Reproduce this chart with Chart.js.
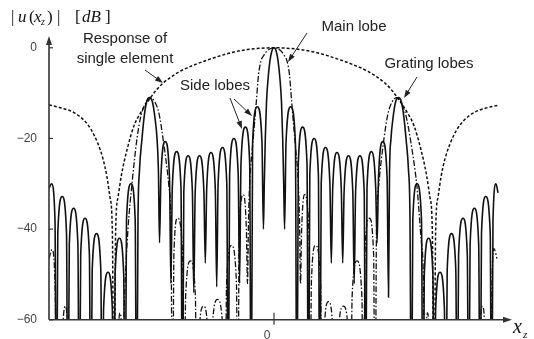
<!DOCTYPE html>
<html>
<head>
<meta charset="utf-8">
<script src="https://cdn.jsdelivr.net/npm/chart.js@4.4.0/dist/chart.umd.min.js"></script>
<style>
  html, body { margin: 0; padding: 0; background: #fff; }
  #wrap { width: 534px; height: 339px; position: relative; }
</style>
</head>
<body>
<div id="wrap"><canvas id="chart"></canvas></div>
<script>
// x = position along x_z (0 = centre of the array), y = level in dB

const yTicks = [0, -20, -40, -60];
const xTicks = [0];

// response of a single element (dashed)
const elemX = [-225, -212, -200, -190, -183, -176, -171, -167, -164, -161.6, -160, -158.4, -156, -152.5, -147, -140, -133, -126, -118, -111, -102, -94, -80, -64, -45, -27, 0,
  27, 45, 64, 80, 94, 102, 111, 118, 126, 133, 140, 147, 152.5, 156, 158.4, 160, 161.6, 164, 167, 171, 176, 183, 190, 200, 212, 224];
const elemDb = [-12.6, -13.3, -14.3, -16, -18, -21.2, -24.5, -28.5, -33, -41, -90, -41, -33, -28, -22.5, -17.2, -14.2, -11.8, -9.4, -7.8, -6.3, -5.2, -3.8, -2.5, -1.2, -0.4, 0,
  -0.4, -1.2, -2.5, -3.8, -5.2, -6.3, -7.8, -9.4, -11.8, -14.2, -17.2, -22.5, -28, -33, -41, -90, -41, -33, -28.5, -24.5, -21.2, -18, -16, -14.3, -13.3, -12.7];

// array response (solid)
const solidX = [
  -225, -222.5, -219, -217.6, -216.2, -211.8, -207.5, -206.1, -204.7, -200.4, -196.1, -194.7,
  -193.3, -189, -184.6, -183.2, -181.8, -177.5, -173.2, -171.8, -170.4, -166, -161.7, -160.3,
  -158.9, -154.6, -150.3, -148.9, -147.5, -143, -138.8, -137.4,
  -136, -134.5, -132, -130, -127.5, -124.5, -121.5, -119, -117, -115.5, -114.5,
  -113.1, -108.8, -104.5, -103.1, -101.7, -97.4, -93, -91.6, -90.2, -85.9, -81.6, -80.2,
  -78.8, -74.5, -70.1, -68.7, -67.3, -63, -58.7, -57.3, -55.9, -51.5, -47.2, -45.8,
  -44.4, -40.1, -35.8, -34.4, -33, -28.6, -24.3, -22.9, -21.4, -16.7, -12, -10.6,
  -9.7, -8.7, -7.5, -6, -4, -2, 0, 2, 4, 6, 7.5, 8.7, 9.7, 10.6,
  12, 16.7, 21.4, 22.9, 24.3, 28.6, 33, 34.4, 35.8, 40.1, 44.4, 45.8,
  47.2, 51.5, 55.9, 57.3, 58.7, 63, 67.3, 68.7, 70.1, 74.5, 78.8, 80.2,
  81.6, 85.9, 90.2, 91.6, 93, 97.4, 101.7, 103.1, 104.5, 108.8, 113.1, 114.5,
  115.5, 117, 119, 121.5, 124.5, 127.5, 130, 132, 134.5, 136, 137.4,
  138.8, 143, 147.5, 148.9, 150.3, 154.6, 158.9, 160.3, 161.7, 166, 170.4, 171.8,
  173.2, 177.5, 181.8, 183.2, 184.6, 189, 193.3, 194.7, 196.1, 200.4, 204.7, 206.1,
  207.5, 211.8, 216.2, 217.6, 219, 222, 224
];
const solidDb = [
  -31, -30, -38, -90, -40.8, -32.8, -40.8, -90, -43.4, -35.4, -43.4, -90,
  -45.6, -37.6, -45.6, -90, -49, -41, -49, -90, -57.5, -49.5, -57.5, -90,
  -50, -42, -50, -90, -38, -30, -38, -90,
  -38, -27, -20, -15.5, -12, -11, -12, -15.5, -20, -28, -43,
  -28.7, -20.7, -28.7, -52, -30.9, -22.9, -30.9, -90, -31.8, -23.8, -31.8, -54,
  -31.8, -23.8, -31.8, -47.5, -31.1, -23.1, -31.1, -52.7, -30, -22, -30, -90,
  -28, -20, -28, -52, -25.5, -17.5, -25.5, -90, -21, -13, -21, -40,
  -30, -20, -12, -7, -2.8, -0.6, 0, -0.6, -2.8, -7, -12, -20, -30, -40,
  -21, -13, -21, -90, -25.5, -17.5, -25.5, -90, -28, -20, -28, -90,
  -30, -22, -30, -47.5, -31.1, -23.1, -31.1, -47.5, -31.8, -23.8, -31.8, -52,
  -31.8, -23.8, -31.8, -90, -30.9, -22.9, -30.9, -43, -28.7, -20.7, -28.7, -55,
  -28, -20, -15.5, -12, -11, -12, -15.5, -20, -27, -38, -90,
  -38, -30, -38, -90, -50, -42, -50, -90, -57.5, -49.5, -57.5, -90,
  -49, -41, -49, -90, -45.6, -37.6, -45.6, -90, -43.4, -35.4, -43.4, -90,
  -40.8, -32.8, -40.8, -90, -38, -30, -32
];

// array response, second case (dash-dot)
const dashDotX = [
  -225, -222, -219, -216.5, -212, -209, -206, -205, -157, -155.5, -154, -152.5, -151.2,
  -150, -149, -146, -142, -137, -133, -128, -123.5, -119, -115, -111, -105, -103, -101.5,
  -100.1, -96.5, -91.4, -90, -88.4, -83.5, -78.6, -77, -75.4, -70.5, -65.6, -64,
  -62.2, -56.5, -50.8, -49, -47.4, -42.5, -37.6, -36, -34.9, -30.5, -27.6, -26.5,
  -25.5, -24, -22, -20, -17.7, -15.5, -13, -10, -6, 0, 6, 10, 13, 15.5, 17.7, 20, 22, 24, 25.5,
  26.5, 27.6, 30.5, 34.9, 36, 37.4, 41.5, 46.6, 48, 49.8, 54.5, 59.2, 62,
  63.7, 69.5, 74.8, 76.5, 78.1, 83, 87.9, 89.5, 90.9, 95.3, 99.6, 101,
  102.5, 104.5, 110, 114, 118, 122.5, 127, 132, 137, 141, 143, 147, 149.5, 151,
  152.3, 153.5, 155, 156.5, 204.5, 206, 208.5, 211, 212.5, 216.5, 218, 220, 223
];
const dashDotDb = [
  -46.5, -44.5, -52, -90, -64, -57, -64, -90, -90, -63, -58.5, -63, -90,
  -60, -52.5, -40, -30, -20, -15, -12, -11, -12, -14.5, -20, -30.7, -40, -90,
  -45.6, -37.6, -45.6, -90, -55, -47, -55, -90, -65, -57, -65, -90,
  -63.5, -55.5, -63.5, -90, -51.6, -43.6, -51.6, -90, -40.4, -32.4, -40.4, -52,
  -38, -28.5, -23, -18, -12, -6, -2.9, -1.6, -0.5, 0, -0.5, -1.6, -2.9, -6, -12, -18, -23, -28.5, -38,
  -52, -40.4, -32.4, -40.4, -90, -51.6, -43.6, -51.6, -90, -64, -56, -64, -90,
  -65, -57, -65, -90, -55, -47, -55, -90, -45.6, -37.6, -45.6, -90,
  -40, -30.7, -20, -14.5, -12, -11, -12, -15, -21, -27, -30.7, -42, -52.5, -90,
  -63, -58.5, -63, -90, -90, -64, -57, -64, -90, -90, -52, -44.3, -46.5
];

const toPoints = (xs, ys) => xs.map((x, i) => ({ x: x, y: ys[i] }));

function arrow(ctx, x1, y1, x2, y2) {
    const a = Math.atan2(y2 - y1, x2 - x1);
    ctx.beginPath();
    ctx.moveTo(x1, y1);
    ctx.lineTo(x2 - 5 * Math.cos(a), y2 - 5 * Math.sin(a));
    ctx.stroke();
    ctx.beginPath();
    ctx.moveTo(x2, y2);
    ctx.lineTo(x2 - 8 * Math.cos(a) + 2.8 * Math.sin(a), y2 - 8 * Math.sin(a) - 2.8 * Math.cos(a));
    ctx.lineTo(x2 - 8 * Math.cos(a) - 2.8 * Math.sin(a), y2 - 8 * Math.sin(a) + 2.8 * Math.cos(a));
    ctx.closePath();
    ctx.fill();
}

// axes with arrows, inner tick marks, labels and callouts
const decor = {
    id: 'decor',
    afterDraw(chart) {
        const ctx = chart.ctx;
        const area = chart.chartArea;
        const xs = chart.scales.x, ys = chart.scales.y;
        ctx.save();
        ctx.strokeStyle = '#333';
        ctx.fillStyle = '#333';
        ctx.lineWidth = 1.6;

        // y axis
        ctx.beginPath();
        ctx.moveTo(area.left, area.bottom);
        ctx.lineTo(area.left, area.top + 8);
        ctx.stroke();
        ctx.beginPath();
        ctx.moveTo(area.left, area.top);
        ctx.lineTo(area.left - 3, area.top + 9);
        ctx.lineTo(area.left + 3, area.top + 9);
        ctx.closePath();
        ctx.fill();

        // x axis
        ctx.beginPath();
        ctx.moveTo(area.left, area.bottom);
        ctx.lineTo(area.right - 8, area.bottom);
        ctx.stroke();
        ctx.beginPath();
        ctx.moveTo(area.right, area.bottom);
        ctx.lineTo(area.right - 9, area.bottom - 3);
        ctx.lineTo(area.right - 9, area.bottom + 3);
        ctx.closePath();
        ctx.fill();

        ctx.lineWidth = 1.2;
        yTicks.forEach(v => {
            const py = ys.getPixelForValue(v);
            ctx.beginPath();
            ctx.moveTo(area.left, py);
            ctx.lineTo(area.left + 4, py);
            ctx.stroke();
        });
        // x tick mark and its label (label sits left of the mark, below the axis)
        ctx.fillStyle = '#444';
        ctx.font = '12px "Liberation Sans", Arial, sans-serif';
        ctx.textAlign = 'center';
        ctx.textBaseline = 'alphabetic';
        xTicks.forEach(v => {
            const px = xs.getPixelForValue(v);
            ctx.beginPath();
            ctx.moveTo(px, area.bottom - 7);
            ctx.lineTo(px, area.bottom + 5);
            ctx.stroke();
            ctx.fillText(String(v), px - 7, 339);
        });

        // callouts
        ctx.fillStyle = '#222';
        ctx.strokeStyle = '#222';
        ctx.font = '15px "Liberation Sans", Arial, sans-serif';
        ctx.fillText('Response of', 125, 43);
        ctx.fillText('single element', 125, 63);
        ctx.fillText('Main lobe', 354, 31);
        ctx.fillText('Side lobes', 215, 90);
        ctx.fillText('Grating lobes', 429, 68);
        ctx.lineWidth = 1;
        arrow(ctx, 145, 70, 163, 83);
        arrow(ctx, 307, 33, 288, 62);
        arrow(ctx, 230, 98, 242, 129);
        arrow(ctx, 234, 99, 252, 116);
        arrow(ctx, 417, 77, 404, 98);

        // y title  |u(x_z)| [dB]
        ctx.textAlign = 'left';
        ctx.fillStyle = '#111';
        const up = '17px "Liberation Serif", serif';
        const it = 'italic 17px "Liberation Serif", serif';
        const parts = [['|', up, 11], ['u', it, 18], ['(', up, 29], ['x', it, 34], [')', up, 47], ['|', up, 57], ['[', up, 75], ['dB', it, 82], [']', up, 105]];
        parts.forEach(p => { ctx.font = p[1]; ctx.fillText(p[0], p[2], 22); });
        ctx.font = 'italic 10px "Liberation Serif", serif';
        ctx.fillText('z', 41, 25);

        // x title  x_z
        ctx.font = 'italic 20px "Liberation Serif", serif';
        ctx.fillText('x', 513, 333);
        ctx.font = 'italic 11px "Liberation Serif", serif';
        ctx.fillText('z', 523, 338);
        ctx.restore();
    }
};

const line = (data, width, dash) => ({
    data: data,
    borderColor: '#111',
    borderWidth: width,
    borderDash: dash,
    pointRadius: 0,
    fill: false,
    cubicInterpolationMode: 'monotone',
    clip: 0
});

const ctx = document.getElementById('chart').getContext('2d');
new Chart(ctx, {
    type: 'line',
    data: {
        datasets: [
            Object.assign(line(toPoints(solidX, solidDb), 1.6, []), { label: 'Array response' }),
            Object.assign(line(toPoints(dashDotX, dashDotDb), 1.3, [6, 2, 1.5, 2]), { label: 'Array response (dash-dot)' }),
            Object.assign(line(toPoints(elemX, elemDb), 1.5, [3, 2]), { label: 'Response of single element' })
        ]
    },
    options: {
        responsive: true,
        maintainAspectRatio: false,
        animation: false,
        layout: { padding: { top: 36, right: 22, left: 0, bottom: 0 } },
        plugins: {
            legend: { display: false },
            tooltip: { enabled: false }
        },
        scales: {
            x: {
                type: 'linear',
                min: -225,
                max: 238,
                grid: { display: false, drawTicks: false },
                border: { display: false },
                afterBuildTicks: s => { s.ticks = xTicks.map(v => ({ value: v })); },
                afterFit: s => { s.height = 13; },
                ticks: { display: false }
            },
            y: {
                min: -60,
                max: 2.6,
                grid: { display: false, drawTicks: false },
                border: { display: false },
                afterBuildTicks: s => { s.ticks = yTicks.map(v => ({ value: v })); },
                afterFit: s => { s.width = 49; },
                ticks: {
                    padding: 12,
                    color: '#444',
                    font: { family: 'Liberation Sans', size: 12 },
                    callback: v => v === 0 ? '0' : '\u2212' + Math.abs(v)
                }
            }
        }
    },
    plugins: [decor]
});
</script>
</body>
</html>
